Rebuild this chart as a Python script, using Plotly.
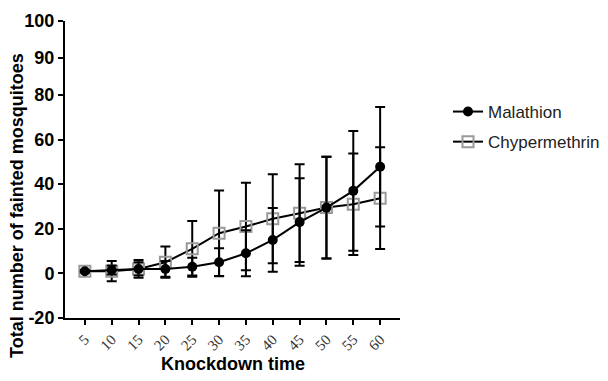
import plotly.graph_objects as go

times = [5, 10, 15, 20, 25, 30, 35, 40, 45, 50, 55, 60]
malathion = [1, 1.5, 2, 2, 3, 5, 9, 15, 23, 29.5, 37, 47.8]
malathion_sd = [0.5, 2, 3, 3.5, 4, 6.3, 10.3, 14.3, 19.6, 22.8, 26.8, 26.8]
chyper = [1, 1, 2, 5, 11, 18, 21, 24.5, 27, 29.5, 31, 33.7]
chyper_sd = [0.5, 4.5, 4, 7, 12.5, 19.2, 19.6, 20, 21.9, 22.8, 22.8, 22.8]

lower_ticks = [-20, 0, 20, 40, 60, 80]
upper_ticks = [90, 100]

fig = go.Figure()

fig.add_trace(go.Scatter(
    x=times, y=chyper, name="Chypermethrin", mode="lines+markers",
    legendgroup="b", legendrank=2,
    line=dict(color="black", width=2),
    marker=dict(symbol="square-open", size=11, color="#9a9a9a", line=dict(width=2, color="#9a9a9a")),
    error_y=dict(type="data", array=chyper_sd, visible=True, color="black", thickness=2, width=5),
))
fig.add_trace(go.Scatter(
    x=times, y=malathion, name="Malathion", mode="lines+markers",
    legendgroup="a", legendrank=1,
    line=dict(color="black", width=2),
    marker=dict(symbol="circle", size=10, color="black"),
    error_y=dict(type="data", array=malathion_sd, visible=True, color="black", thickness=2, width=5),
))
# anchor trace for the upper (broken) axis segment
fig.add_trace(go.Scatter(x=[None], y=[None], xaxis="x", yaxis="y2", showlegend=False, hoverinfo="skip"))

tickfont_y = dict(family="Liberation Sans, Arial", size=18, color="black")

plot_w = 608 - 65 - 208
plot_h = 381 - 21 - 63

fig.update_layout(
    width=608, height=381,
    paper_bgcolor="white", plot_bgcolor="white",
    margin=dict(l=65, r=208, t=21, b=63, autoexpand=False),
    showlegend=True,
    legend=dict(x=(448 - 65) / plot_w, y=1 - (94 - 21) / plot_h, xanchor="left", yanchor="top",
                font=dict(family="Liberation Sans, Arial", size=17, color="#222"),
                traceorder="grouped", tracegroupgap=5, itemwidth=30),
    xaxis=dict(range=[1.3, 63.7], tickvals=times, ticktext=[str(t) for t in times],
               tickangle=-45, ticks="outside", ticklen=5, tickwidth=2, tickcolor="black",
               showline=True, linewidth=2, linecolor="black", showgrid=False, zeroline=False,
               automargin=False,
               tickfont=dict(family="Liberation Serif, Times New Roman", size=15, color="#333"),
               anchor="y"),
    yaxis=dict(domain=[0, 0.751], range=[-20, 80], tickvals=lower_ticks,
               ticktext=["<b>%d</b>" % v for v in lower_ticks],
               ticks="outside", ticklen=5, tickwidth=2, tickcolor="black",
               showline=True, linewidth=2, linecolor="black", showgrid=False, zeroline=False,
               automargin=False, tickfont=tickfont_y, anchor="x"),
    yaxis2=dict(domain=[0.751, 1], range=[80, 100], tickvals=upper_ticks,
                ticktext=["<b>%d</b>" % v for v in upper_ticks],
                ticks="outside", ticklen=5, tickwidth=2, tickcolor="black",
                showline=True, linewidth=2, linecolor="black", showgrid=False, zeroline=False,
                automargin=False, tickfont=tickfont_y, anchor="x"),
    annotations=[
        dict(text="<b>Total number of fainted mosquitoes</b>", textangle=-90,
             x=(17 - 65) / plot_w, xref="paper", xanchor="center",
             y=((381 - 63) - 206) / plot_h, yref="paper", yanchor="middle",
             showarrow=False,
             font=dict(family="Liberation Sans, Arial", size=18, color="black")),
        dict(text="<b>Knockdown time</b>",
             x=0.5, xref="paper", xanchor="center",
             y=-(364 - 318) / plot_h, yref="paper", yanchor="middle",
             showarrow=False,
             font=dict(family="Liberation Sans, Arial", size=18, color="black")),
    ],
)

fig.write_html("out.html", config={"displayModeBar": False},
               post_script="document.body.style.margin='0';document.body.style.overflow='hidden';")
